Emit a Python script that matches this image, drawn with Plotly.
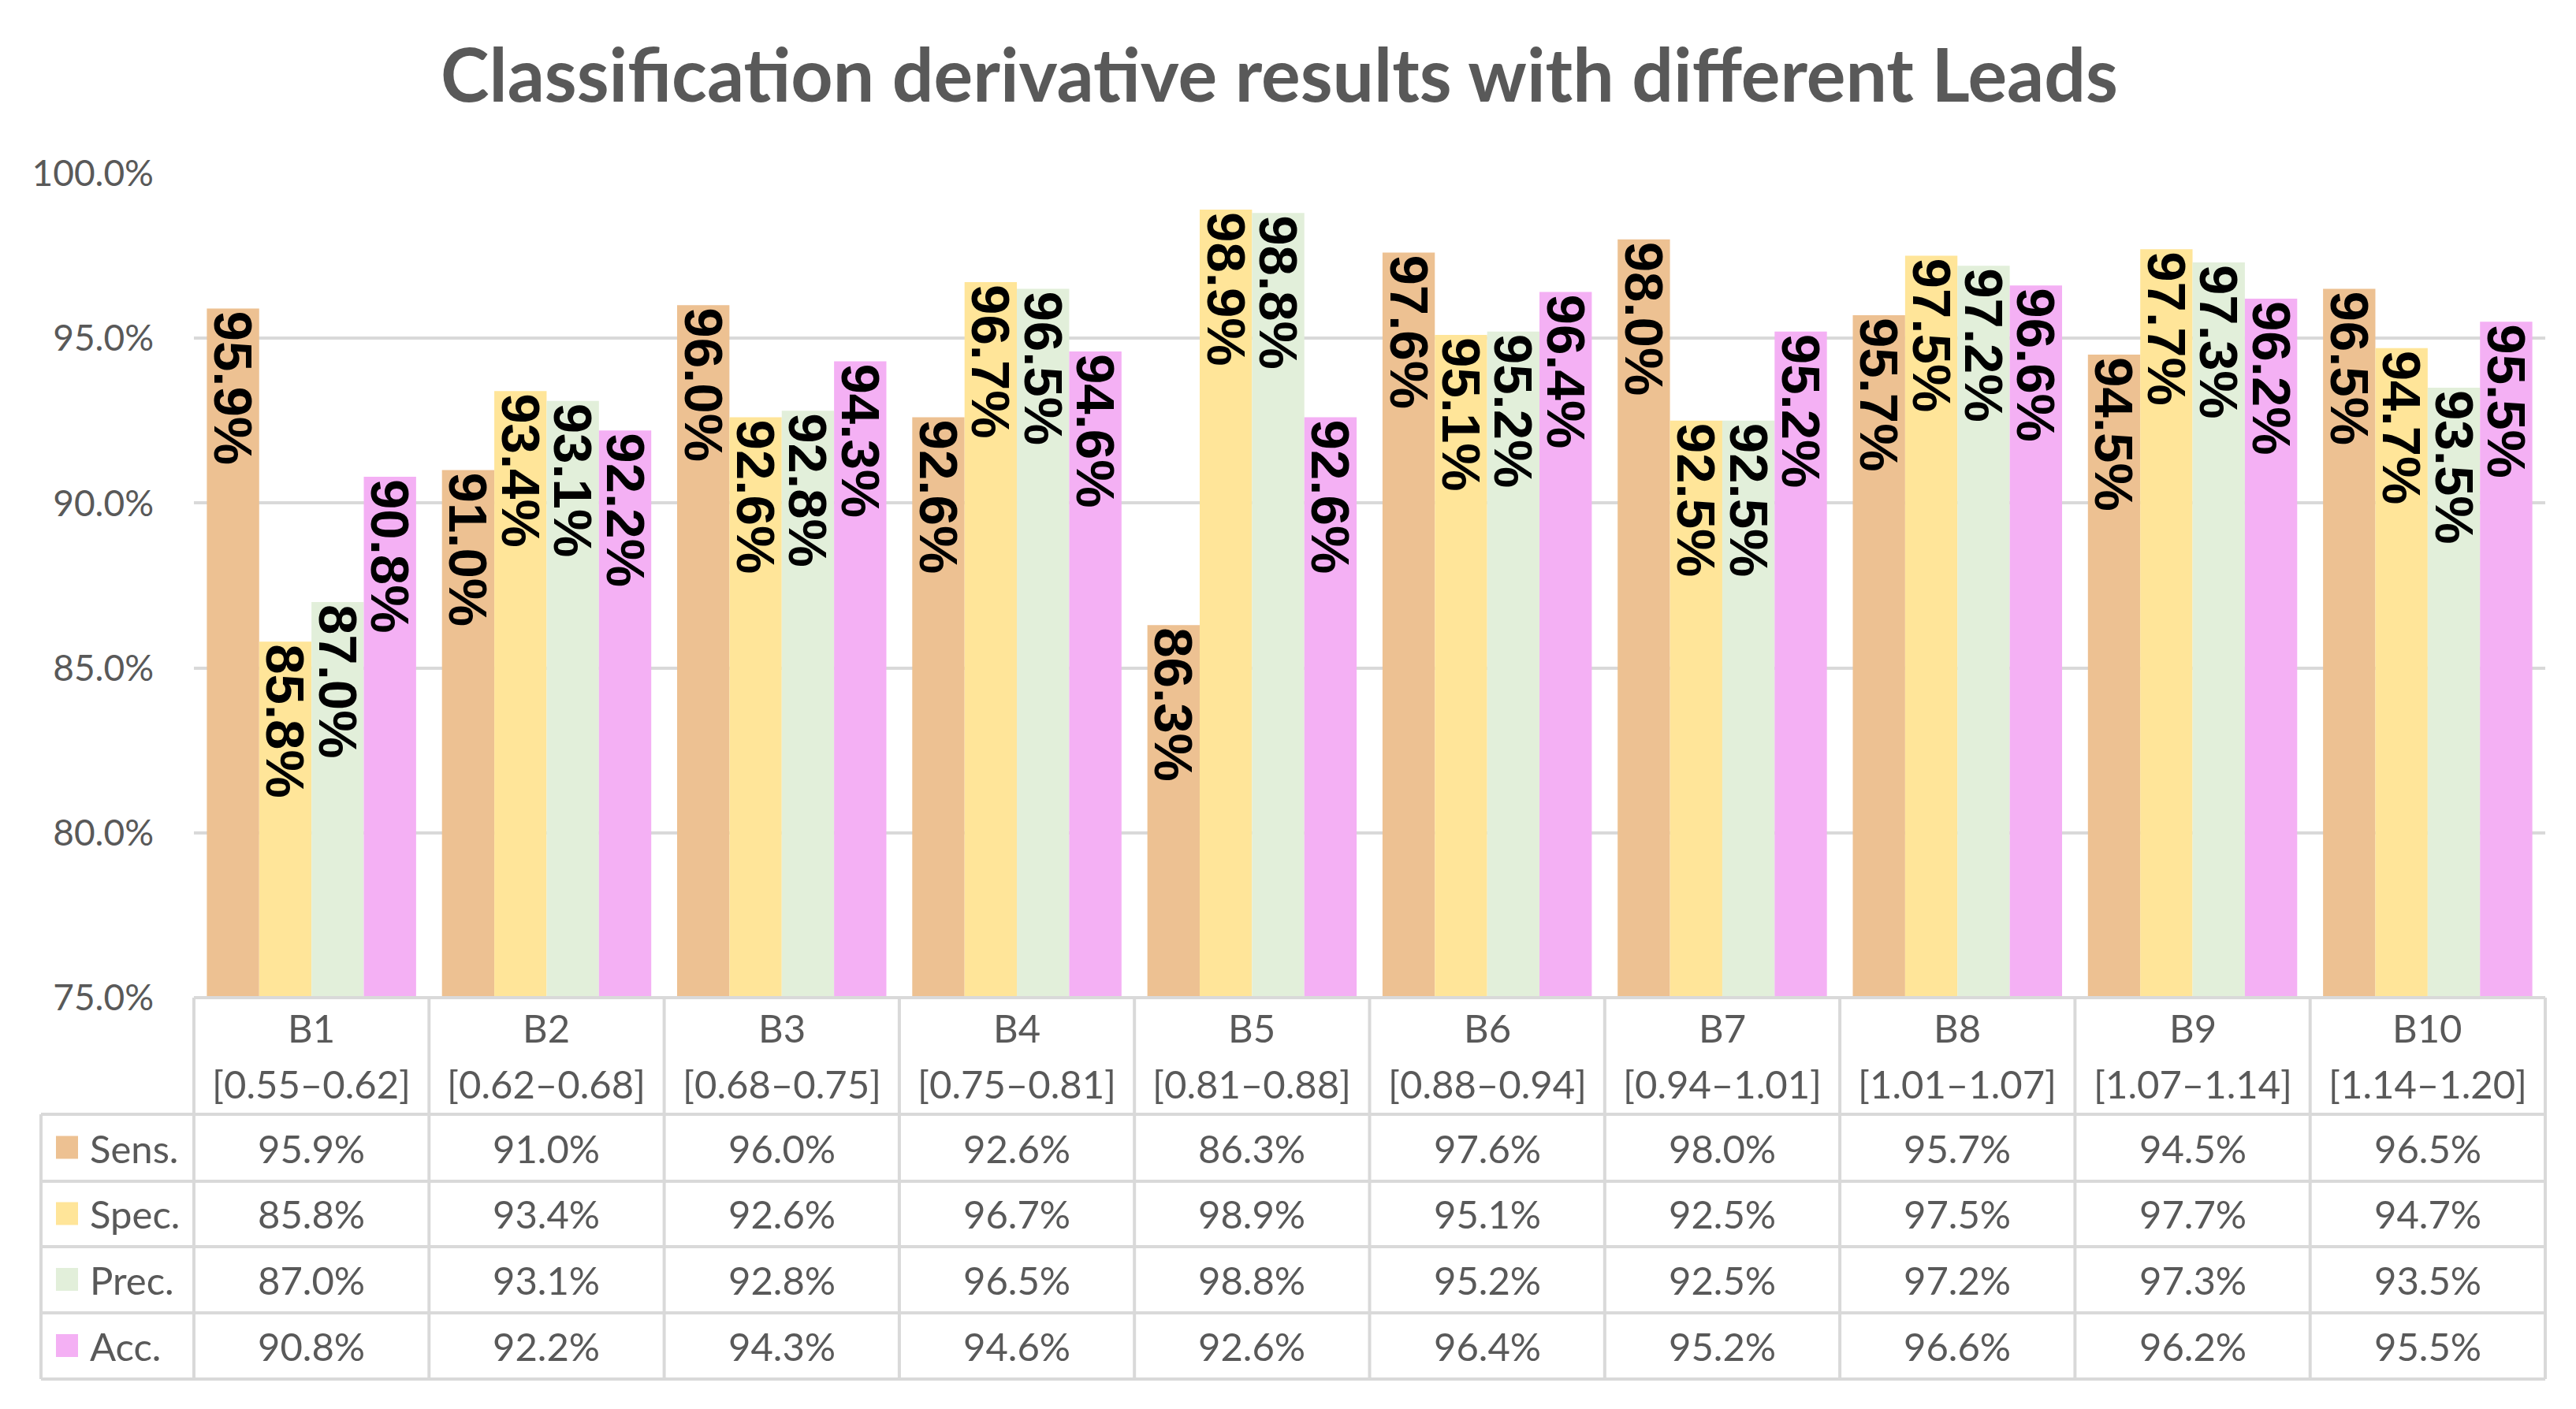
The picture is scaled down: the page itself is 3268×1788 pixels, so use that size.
import plotly.graph_objects as go

# ---------------- data ----------------
categories = ["B1", "B2", "B3", "B4", "B5", "B6", "B7", "B8", "B9", "B10"]
ranges = ["[0.55–0.62]", "[0.62–0.68]", "[0.68–0.75]", "[0.75–0.81]", "[0.81–0.88]",
          "[0.88–0.94]", "[0.94–1.01]", "[1.01–1.07]", "[1.07–1.14]", "[1.14–1.20]"]
series_names = ["Sens.", "Spec.", "Prec.", "Acc."]
sens = [0.959, 0.910, 0.960, 0.926, 0.863, 0.976, 0.980, 0.957, 0.945, 0.965]
spec = [0.858, 0.934, 0.926, 0.967, 0.989, 0.951, 0.925, 0.975, 0.977, 0.947]
prec = [0.870, 0.931, 0.928, 0.965, 0.988, 0.952, 0.925, 0.972, 0.973, 0.935]
acc = [0.908, 0.922, 0.943, 0.946, 0.926, 0.964, 0.952, 0.966, 0.962, 0.955]
y_ticks = [0.75, 0.80, 0.85, 0.90, 0.95, 1.00]
title_text = "Classification derivative results with different Leads"

series_values = [sens, spec, prec, acc]
colors = ["#EDC192", "#FFE599", "#E2EFDA", "#F4B0F4"]

# ---------------- layout constants (pixels, in screenshot coords) ----------------
W, H = 3268, 1788
OFF = 8                     # default body margin of the html page
FW, FH = W - 2 * OFF, H - 2 * OFF
PL, PR = 246, 3229          # plot left / right
PT, PB = 220, 1266          # plot top / bottom
TABLE_LEFT = 52
HEADER_BOTTOM = 1414
ROW_BOUNDS = [1414, 1499, 1582, 1666, 1750]
GRID = "#D9D9D9"
TXT = "#595959"
TFONT = "Lato"
TSIZE = 49


def px_x(p):
    return (p - PL) / (PR - PL)


def px_y(p):
    return (PB - p) / (PB - PT)


fig = go.Figure()
for name, vals, col in zip(series_names, series_values, colors):
    fig.add_trace(go.Bar(
        x=categories, y=vals, name=name,
        marker=dict(color=col, line=dict(width=0)),
        text=[f"{v:.1%}" for v in vals],
        textposition="inside", insidetextanchor="end", textangle=90,
        constraintext="none",
        textfont=dict(family="Liberation Sans", size=69, color="black", weight="bold"),
        hoverinfo="skip",
    ))

shapes = []
line = dict(color=GRID, width=4)
n = len(categories)
# vertical lines of category columns
for i in range(n + 1):
    shapes.append(dict(type="line", xref="paper", yref="paper",
                       x0=i / n, x1=i / n, y0=px_y(PB), y1=px_y(ROW_BOUNDS[-1]), line=line))
# left column vertical line
shapes.append(dict(type="line", xref="paper", yref="paper",
                   x0=px_x(TABLE_LEFT), x1=px_x(TABLE_LEFT),
                   y0=px_y(HEADER_BOTTOM), y1=px_y(ROW_BOUNDS[-1]), line=line))
# horizontal lines
shapes.append(dict(type="line", xref="paper", yref="paper",
                   x0=0, x1=1, y0=0, y1=0, line=line))
for rb in ROW_BOUNDS:
    shapes.append(dict(type="line", xref="paper", yref="paper",
                       x0=px_x(TABLE_LEFT), x1=1, y0=px_y(rb), y1=px_y(rb), line=line))

annotations = []
for i, (c, r) in enumerate(zip(categories, ranges)):
    xc = (i + 0.5) / n
    annotations.append(dict(text=c, x=xc, y=px_y(1304), xref="paper", yref="paper",
                            showarrow=False, xanchor="center", yanchor="middle",
                            font=dict(family=TFONT, size=TSIZE, color=TXT)))
    annotations.append(dict(text=r, x=xc, y=px_y(1375), xref="paper", yref="paper",
                            showarrow=False, xanchor="center", yanchor="middle",
                            font=dict(family=TFONT, size=TSIZE, color=TXT)))

for k, (name, vals, col) in enumerate(zip(series_names, series_values, colors)):
    yc = (ROW_BOUNDS[k] + ROW_BOUNDS[k + 1]) / 2
    shapes.append(dict(type="rect", xref="paper", yref="paper",
                       x0=px_x(71), x1=px_x(99), y0=px_y(yc - 15), y1=px_y(yc + 14),
                       fillcolor=col, line=dict(width=0)))
    annotations.append(dict(text=name, x=px_x(112), y=px_y(yc), xref="paper", yref="paper",
                            showarrow=False, xanchor="left", yanchor="middle",
                            font=dict(family=TFONT, size=TSIZE, color=TXT)))
    for i, v in enumerate(vals):
        annotations.append(dict(text=f"{v:.1%}", x=(i + 0.5) / n, y=px_y(yc),
                                xref="paper", yref="paper", showarrow=False,
                                xanchor="center", yanchor="middle",
                                font=dict(family=TFONT, size=TSIZE, color=TXT)))

fig.update_layout(
    width=FW, height=FH,
    margin=dict(l=PL - OFF, r=FW - (PR - OFF), t=PT - OFF, b=FH - (PB - OFF), pad=0),
    paper_bgcolor="white", plot_bgcolor="white",
    barmode="group", bargap=0.11, bargroupgap=0,
    showlegend=False,
    title=dict(text=f"<b>{title_text}</b>", x=(1623 - OFF) / FW, xref="container",
               xanchor="center", y=1 - (96 - OFF) / FH, yref="container", yanchor="middle",
               font=dict(family=TFONT, size=93, color=TXT)),
    xaxis=dict(type="category", range=[-0.5, n - 0.5], showticklabels=False,
               showgrid=False, zeroline=False, showline=False, ticks=""),
    yaxis=dict(range=[0.75, 1.0], tickvals=y_ticks, tickformat=".1%",
               showgrid=True, gridcolor=GRID, gridwidth=4, zeroline=False, showline=False,
               ticks="", ticklabelstandoff=50,
               tickfont=dict(family=TFONT, size=46, color=TXT)),
    shapes=shapes, annotations=annotations,
)

fig.write_html("out.html")
